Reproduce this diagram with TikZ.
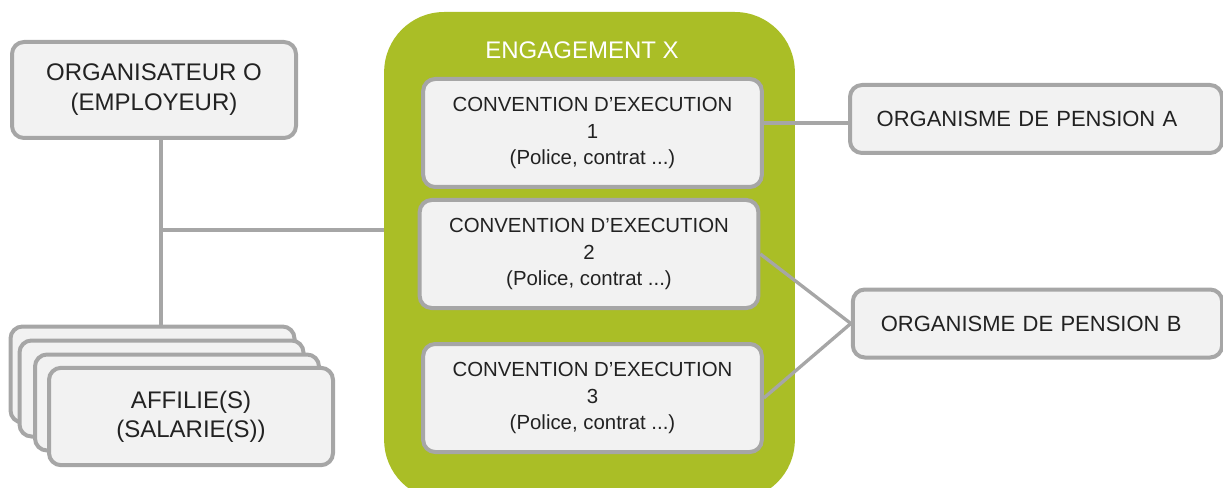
\documentclass[tikz,border=0pt]{standalone}
\usepackage{fontspec}
\setmainfont{Liberation Sans}
\usepackage{tikz}
\usetikzlibrary{positioning}

\definecolor{engagegreen}{HTML}{AABE26}
\definecolor{boxgray}{HTML}{A6A6A6}
\definecolor{boxfill}{HTML}{F2F2F2}
\definecolor{textdark}{HTML}{222222}

\tikzset{
  greybox/.style={draw=boxgray, line width=3pt, fill=boxfill, rounded corners=9pt,
    text=textdark, align=center, inner sep=0pt},
  convbox/.style={greybox, minimum width=254pt, minimum height=81pt,
    font=\fontsize{15.3}{20}\selectfont},
  partybox/.style={greybox, minimum width=213pt, minimum height=72pt,
    font=\fontsize{18}{21.5}\selectfont},
  pensionbox/.style={greybox, minimum height=51pt, inner xsep=20pt, text width=239pt,
    align=left, font=\fontsize{16.5}{20}\selectfont},
  link/.style={draw=boxgray, line width=2.5pt}
}

\begin{document}
\begin{tikzpicture}[x=0.75pt, y=-0.75pt]
\useasboundingbox (0,0) rectangle (1223,488);

% engagement
\node[fill=engagegreen, rounded corners=45pt, minimum width=308pt, minimum height=366pt,
  inner sep=0pt] (engagement) at (589.5,256) {};
\node[text=white, font=\fontsize{18}{21}\selectfont] (title) at (582,50) {ENGAGEMENT X};

% organisateur et affilies
\node[partybox, font=\fontsize{18}{22.5}\selectfont] (orga) at (154,90) {ORGANISATEUR O\\(EMPLOYEUR)};
\node[partybox] (aff4) at (152.5,374.5) {};
\node[partybox] (aff3) at (161.5,388.5) {};
\node[partybox] (aff2) at (177,402.5) {};
\node[partybox, minimum height=73pt] (aff1) at (191,416.5) {AFFILIE(S)\\(SALARIE(S))};

\coordinate (junction) at (161,230);
\draw[link] (orga.south -| junction) -- (aff4.north -| junction);
\draw[link] (junction) -- (engagement.west |- junction);

% conventions
\node[convbox] (conv1) at (592.5,133) {CONVENTION D’EXECUTION\\1\\(Police, contrat ...)};
\node[convbox] (conv2) at (589,254) {CONVENTION D’EXECUTION\\2\\(Police, contrat ...)};
\node[convbox] (conv3) at (592.5,398) {CONVENTION D’EXECUTION\\3\\(Police, contrat ...)};

% organismes de pension
\node[pensionbox] (pensA) at (1036,119) {ORGANISME DE PENSION A};
\node[pensionbox, inner xsep=21pt, text width=235pt] (pensB) at (1037.5,323.5) {ORGANISME DE PENSION B};

\draw[link] (conv1.east |- 0,123) -- (pensA.west |- 0,123);
\draw[link] (conv2.east) -- (pensB.west);
\draw[link] (conv3.east) -- (pensB.west);
\end{tikzpicture}
\end{document}
